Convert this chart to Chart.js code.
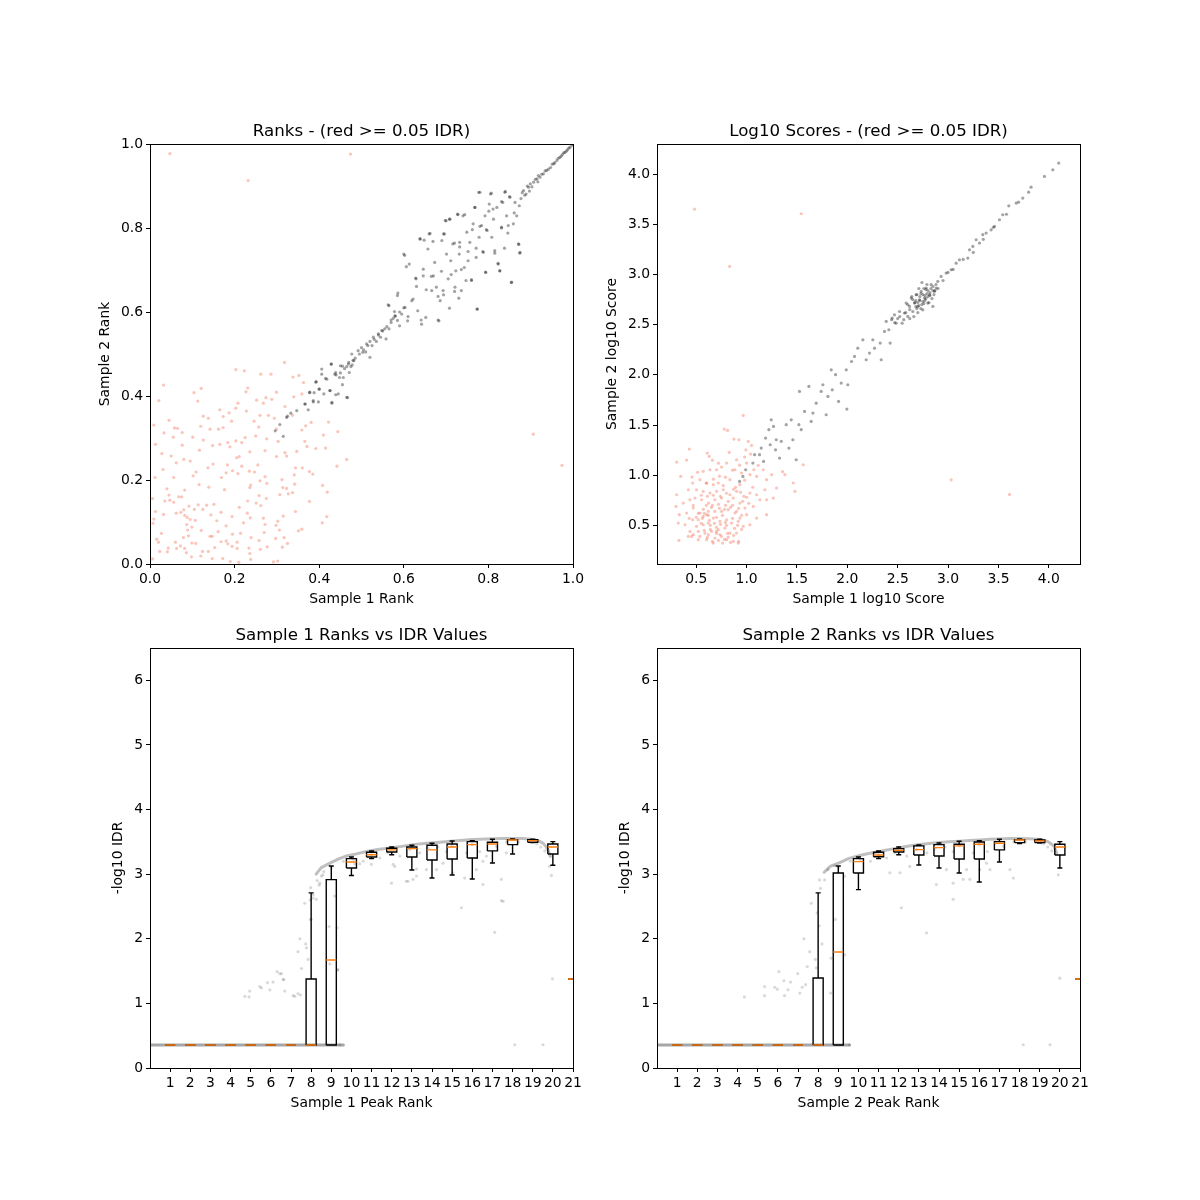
<!DOCTYPE html>
<html><head><meta charset="utf-8">
<script src="https://cdn.jsdelivr.net/npm/chart.js@4.4.1/dist/chart.umd.min.js"></script>
<style>
html,body{margin:0;padding:0;background:#fff;}
body{width:1200px;height:1200px;position:relative;overflow:hidden;}
canvas{position:absolute;}
</style></head><body>
<canvas id="c1" width="523" height="530" style="left:70px;top:94px;width:523px;height:530px"></canvas>
<canvas id="c2" width="523" height="530" style="left:577px;top:94px;width:523px;height:530px"></canvas>
<canvas id="c3" width="523" height="530" style="left:70px;top:598px;width:523px;height:530px"></canvas>
<canvas id="c4" width="523" height="530" style="left:577px;top:598px;width:523px;height:530px"></canvas>
<script>
// ---------- DATA ----------
const rankTicks = [0, 0.2, 0.4, 0.6, 0.8, 1.0];
const scoreTicks = [0.5, 1.0, 1.5, 2.0, 2.5, 3.0, 3.5, 4.0];
const idrYTicks = [0, 1, 2, 3, 4, 5, 6];
const peakRankTicks = [1,2,3,4,5,6,7,8,9,10,11,12,13,14,15,16,17,18,19,20,21];

const rankRed = [
[.047,.977],[.474,.976],[.232,.913],[.906,.309],[.974,.235],
[.318,.480],[.203,.463],[.223,.460],[.262,.452],[.286,.452],[.352,.449],[.338,.445],[.032,.426],[.363,.432],[.231,.419],
[.104,.408],[.121,.418],[.227,.410],[.299,.409],[.252,.390],[.274,.396],[.288,.392],[.340,.398],[.359,.405],[.021,.389],
[.113,.388],[.208,.383],[.268,.383],[.319,.375],[.203,.371],[.165,.367],[.228,.364],[.187,.360],[.126,.352],[.138,.347],
[.173,.351],[.260,.354],[.280,.354],[.294,.347],[.337,.354],[.045,.342],[.193,.340],[.246,.340],[.381,.337],[.422,.338],
[.009,.331],[.058,.324],[.065,.323],[.120,.328],[.142,.321],[.162,.321],[.173,.325],[.257,.326],[.299,.321],[.359,.319],
[.368,.329],[.033,.312],[.076,.313],[.444,.315],[.410,.307],[.055,.302],[.101,.302],[.126,.295],[.184,.289],[.203,.293],
[.225,.301],[.250,.305],[.276,.298],[.366,.292],[.013,.285],[.076,.283],[.148,.282],[.165,.285],[.189,.279],[.217,.289],
[.303,.292],[.371,.280],[.392,.275],[.415,.276],[.117,.271],[.236,.267],[.272,.270],[.319,.265],[.347,.268],[.028,.263],
[.050,.257],[.080,.249],[.062,.241],[.095,.245],[.205,.253],[.211,.256],[.299,.256],[.323,.257],[.465,.249],[.149,.238],
[.183,.236],[.137,.229],[.195,.222],[.235,.221],[.255,.236],[.217,.233],[.031,.225],[.344,.229],[.360,.229],[.442,.233],
[.109,.219],[.180,.217],[.247,.219],[.377,.220],[.385,.214],[.012,.206],[.056,.206],[.102,.210],[.169,.206],[.208,.215],
[.272,.208],[.341,.212],[.312,.201],[.116,.189],[.139,.183],[.238,.188],[.260,.198],[.276,.192],[.342,.190],[.408,.187],
[.040,.179],[.082,.176],[.176,.177],[.236,.182],[.314,.182],[.323,.180],[.337,.170],[.419,.171],[.045,.164],[.068,.160],
[.075,.160],[.258,.163],[.307,.165],[.327,.167],[.035,.150],[.047,.152],[.056,.147],[.006,.156],[.231,.150],[.275,.156],
[.377,.149],[.092,.138],[.114,.141],[.134,.140],[.151,.142],[.125,.130],[.211,.135],[.251,.145],[.262,.139],[.013,.125],
[.032,.118],[.062,.121],[.073,.123],[.080,.129],[.082,.116],[.105,.130],[.144,.117],[.168,.123],[.230,.121],[.344,.125],
[.088,.111],[.095,.106],[.107,.104],[.158,.103],[.194,.113],[.221,.098],[.237,.110],[.268,.109],[.272,.094],[.302,.102],
[.315,.114],[.418,.113],[.007,.097],[.009,.107],[.087,.094],[.099,.088],[.180,.091],[.298,.092],[.407,.098],[.027,.073],
[.089,.081],[.121,.080],[.161,.077],[.195,.071],[.214,.073],[.270,.075],[.306,.081],[.351,.079],[.359,.083],[.060,.052],
[.079,.063],[.091,.067],[.099,.050],[.142,.066],[.147,.066],[.168,.053],[.180,.055],[.206,.052],[.239,.063],[.258,.056],
[.297,.061],[.317,.063],[.016,.059],[.020,.052],[.043,.038],[.063,.037],[.072,.043],[.082,.037],[.108,.049],[.124,.030],
[.138,.030],[.153,.039],[.184,.048],[.194,.042],[.206,.037],[.234,.038],[.236,.025],[.261,.035],[.277,.041],[.313,.040],
[.325,.049],[.023,.030],[.041,.029],[.086,.027],[.098,.017],[.120,.019],[.147,.013],[.172,.013],[.190,.006],[.210,.004],
[.238,.011],[.292,.005],[.302,.007],[.006,.012]
];

const rankGray = [
[.296,.317],[.307,.332],[.315,.304],[.325,.352],[.333,.359],[.367,.381],[.374,.367],[.377,.408],[.388,.408],[.386,.386],
[.398,.386],[.400,.416],[.393,.434],[.406,.464],[.415,.442],[.430,.383],[.426,.413],[.429,.476],[.439,.403],[.467,.396],
[.439,.456],[.448,.444],[.455,.427],[.455,.471],[.471,.456],[.478,.474],
[.323,.349],[.347,.365],[.366,.381],[.378,.409],[.386,.389],[.392,.433],[.400,.417],[.406,.452],[.411,.405],[.418,.440],
[.425,.413],[.428,.476],[.430,.385],[.437,.452],[.445,.405],[.450,.472],[.457,.444],[.465,.397],[.469,.476],[.477,.500],
[.482,.484],[.492,.508],[.503,.504],[.512,.524],[.520,.492],[.528,.540],[.540,.548],[.548,.556],[.558,.536],[.565,.615],
[.570,.581],[.579,.591],[.585,.639],[.590,.567],[.600,.738],[.603,.611],[.609,.579],[.613,.714],[.619,.627],[.622,.631],
[.629,.679],[.633,.603],[.639,.774],[.642,.571],[.646,.686],[.648,.771],[.652,.587],[.657,.750],[.662,.787],[.666,.651],
[.670,.686],[.673,.718],[.677,.659],[.683,.579],[.686,.627],[.690,.770],[.693,.651],[.696,.786],[.700,.817],[.701,.738],
[.705,.679],[.709,.821],[.711,.722],[.716,.762],[.721,.659],[.723,.698],[.727,.833],[.731,.738],[.732,.766],[.736,.651],
[.740,.829],[.743,.706],[.747,.675],[.749,.790],[.752,.722],[.756,.766],[.760,.675],[.764,.810],[.768,.849],[.771,.730],
[.774,.607],[.778,.778],[.780,.885],[.784,.806],[.788,.742],[.792,.829],[.794,.694],[.797,.794],[.802,.857],[.805,.881],
[.808,.778],[.812,.821],[.815,.746],[.820,.849],[.823,.714],[.827,.698],[.831,.802],[.834,.861],[.839,.885],[.843,.829],
[.847,.806],[.851,.873],[.855,.671],[.859,.810],[.863,.861],[.867,.829],[.871,.762],[.873,.853],[.875,.742],[.854,.670],
[.874,.740],[.872,.761],[.823,.716],[.793,.695],[.773,.607],
[.777,.885],[.807,.883],[.840,.887],[.768,.849],[.801,.840],[.811,.845],[.831,.863],[.850,.875],[.861,.836],[.698,.818],
[.708,.821],[.728,.832],[.744,.832],[.762,.796],[.780,.804],[.795,.796],[.831,.800],[.846,.788],[.638,.774],[.660,.786],
[.669,.768],[.694,.786],[.720,.764],[.732,.755],[.752,.744],[.771,.752],[.787,.744],[.815,.740],[.838,.752],[.602,.735],
[.606,.708],[.628,.681],[.646,.702],[.665,.685],[.689,.697],[.712,.689],[.736,.701],[.760,.677],[.630,.661],[.653,.653],
[.681,.637],[.694,.641],[.720,.649],[.586,.645],[.563,.617],[.578,.601],[.610,.589],[.641,.581],[.681,.581],[.708,.609],
[.730,.633],[.827,.698],
[.877,.870],[.880,.884],[.883,.889],[.886,.878],[.889,.881],[.892,.900],[.895,.897],[.897,.888],[.899,.905],[.903,.898],
[.907,.909],[.911,.916],[.915,.917],[.917,.910],[.918,.925],[.922,.921],[.926,.928],[.930,.929],[.934,.936],[.938,.937],
[.942,.940],[.947,.944],[.951,.952],[.957,.956],[.962,.961],[.969,.968],[.975,.975],[.981,.980],[.987,.986],[.993,.992],
[.997,.997],[1.0,1.0],[.955,.953],[.965,.966],[.972,.971],[.978,.979],[.984,.983],[.990,.990],
[.485,.490],[.495,.500],[.500,.515],[.505,.510],[.510,.505],[.515,.520],[.520,.530],[.525,.520],[.530,.535],[.535,.530],
[.540,.545],[.545,.540],[.550,.555],[.555,.560],[.560,.565],[.565,.560],[.570,.575],[.575,.585],[.580,.590],[.585,.580],
[.590,.600],[.595,.595],[.600,.610],[.460,.465],[.465,.470],[.470,.480],[.475,.470],[.480,.485],[.450,.455],[.440,.450]
];

const scoreRed = [
[.483,3.651],[1.542,3.605],[.831,3.080],[3.031,.954],[3.610,.808],
[.966,1.595],[.778,1.459],[.811,1.446],[.431,1.260],[.305,1.131],[.404,1.151],[.609,1.220],[.629,1.187],[.827,1.227],
[.874,1.360],[.923,1.353],[1.016,1.336],[1.049,1.297],[.993,1.253],[.900,1.154],[.801,1.121],[.751,1.081],[.702,1.054],
[.636,1.054],[.569,1.038],[.513,1.028],[.457,.981],[.345,.988],[.464,.922],[.536,.955],[.603,.922],[.669,.905],[.718,.922],
[.768,.895],[.834,.955],[.884,1.054],[.950,1.021],[1.033,1.005],[1.099,.988],[1.072,1.054],[1.115,1.098],[1.000,1.121],
[1.165,1.054],[1.198,.955],[1.248,1.005],[1.357,1.035],[1.463,.922],[1.562,1.104],[1.479,.839],[1.380,1.005],[1.297,.872],
[1.181,.855],[1.099,.805],[1.033,.822],[.973,.789],[.900,.839],[.834,.805],[.768,.855],[.702,.839],[.636,.822],[.569,.839],
[.503,.855],[.421,.855],[.305,.805],[.298,.689],[.371,.722],[.437,.755],[.487,.772],[.553,.755],[.622,.722],[.685,.755],
[.751,.772],[.817,.739],[.867,.772],[.933,.722],[.983,.672],[1.066,.689],[1.132,.755],[1.198,.606],[1.099,.573],[1.000,.606],
[.933,.573],[.884,.623],[.817,.656],[.751,.639],[.685,.639],[.603,.606],[.536,.623],[.470,.672],[.404,.623],[.331,.606],
[.321,.523],[.388,.506],[.464,.556],[.520,.556],[.569,.589],[.619,.523],[.669,.573],[.735,.540],[.801,.556],[.851,.523],
[.917,.540],[.966,.490],[1.033,.506],[.503,.490],[.569,.506],[.437,.440],[.520,.440],[.586,.423],[.652,.440],[.718,.457],
[.784,.473],[.834,.423],[.900,.423],[.421,.390],[.470,.407],[.536,.390],[.619,.407],[.685,.374],[.735,.407],[.801,.357],
[.867,.340],[.917,.324],[.669,.324],[.603,.357],[.520,.357],[.454,.390],[.328,.350],[.761,.324],[.817,.383],[.702,.440],
[1.198,.755],[1.264,.772],[.933,.905],[.890,.879],[.60,.70],[.65,.68],[.72,.71],[.78,.66],[.58,.62],[.62,.60],[.70,.58],
[.76,.60],[.84,.68],[.90,.64],[.55,.52],[.64,.50],[.70,.48],[.80,.50],[.88,.47],[.95,.60],[1.02,.72],[1.06,.88],[.98,.95],
[.52,.62],[.57,.66],[.62,.64],[.66,.70],[.73,.67],[.79,.70],[.86,.70],[.92,.67],[.96,.74],[.47,.70],[.43,.57],[.50,.58],
[.56,.57],[.63,.55],[.68,.52],[.74,.51],[.79,.53],[.86,.57],[.91,.50],[.95,.46],[.58,.45],[.64,.46],[.70,.42],[.75,.39],
[.81,.42],[.87,.40],[.61,.38],[.66,.34],[.72,.35],[.78,.36],[.84,.33],[.92,.34],[.55,.80],[.61,.79],[.67,.80],[.74,.79],
[.80,.82],[.87,.86],[.94,.83],[1.00,.78],[.60,.92],[.67,.96],[.73,.99],[.79,.98],[.86,1.05],[.93,1.10],[.98,1.18],[1.04,1.21],
[.72,1.12],[.66,1.15]
];

const scoreGray = [
[.930,.938],[.963,.988],[.990,1.054],[1.062,1.121],[1.079,1.204],[1.128,1.204],[1.145,1.270],[1.168,1.137],[1.188,1.370],
[1.221,1.453],[1.234,1.303],[1.244,1.552],[1.267,1.486],[1.287,1.253],[1.294,1.353],[1.327,1.170],[1.344,1.337],[1.393,1.503],
[1.420,1.270],[1.443,1.552],[1.459,1.353],[1.492,1.154],[1.519,1.503],[1.542,1.453],[1.525,1.835],[1.575,1.635],[1.618,1.884],
[1.641,1.536],[1.658,1.619],[1.691,1.718],[1.740,1.835],[1.757,1.901],[1.790,1.602],[1.807,1.785],[1.840,2.050],[1.850,1.851],
[1.883,2.001],[1.913,1.735],[1.939,1.918],[1.989,2.050],[1.995,1.659],[2.005,1.901],[2.042,2.133],[2.071,2.183],[2.104,2.266],
[2.154,2.349],[2.187,2.150],[2.220,2.217],[2.253,2.349],[2.270,2.266],[2.326,2.316],[2.336,2.150],[2.369,2.432],[2.386,2.532],
[2.412,2.449],[2.425,2.316],[2.445,2.565],[2.468,2.598],[2.485,2.515],[2.518,2.631],[2.544,2.515],[2.567,2.615],[2.584,2.715],
[2.600,2.582],[2.617,2.682],[2.634,2.765],[2.650,2.631],[2.667,2.715],[2.683,2.798],[2.700,2.682],[2.716,2.748],[2.733,2.831],
[2.749,2.648],[2.766,2.765],[2.783,2.865],[2.799,2.715],[2.816,2.798],[2.832,2.898],[2.849,2.682],[2.865,2.831],[2.882,2.865],
[2.898,2.931],[2.931,2.980],[2.981,3.014],[3.031,3.047],[3.080,3.113],[3.113,3.146],[3.196,3.163],[3.213,3.246],[3.246,3.279],
[3.279,3.346],[3.312,3.313],[3.345,3.396],[3.378,3.412],[3.428,3.445],[3.461,3.479],[3.510,3.545],[3.543,3.595],[3.603,3.684],
[3.676,3.711],[3.742,3.761],[3.824,3.870],[3.957,3.977],[4.040,4.043],[4.099,4.110],
[2.60,2.70],[2.62,2.65],[2.65,2.75],[2.68,2.68],[2.70,2.72],[2.72,2.78],[2.74,2.70],[2.75,2.80],[2.77,2.74],[2.78,2.85],
[2.80,2.78],[2.82,2.82],[2.84,2.76],[2.85,2.88],[2.87,2.84],[2.70,2.62],[2.73,2.66],[2.76,2.86],[2.79,2.90],[2.81,2.72],
[2.66,2.58],[2.64,2.78],[2.69,2.80],[2.71,2.86],[2.74,2.92],[2.83,2.86],[2.86,2.80],[2.88,2.90],[2.90,2.86],[2.58,2.62],
[2.62,2.56],[2.56,2.55],[2.52,2.58],[2.50,2.56],[2.47,2.52],[2.44,2.55],[2.67,2.72],[2.72,2.74],[2.77,2.79],[2.80,2.84],
[2.78,2.76],[2.75,2.73],[2.71,2.69],[2.68,2.74],[2.73,2.81],[2.76,2.71],[2.79,2.81],[2.82,2.79],[2.85,2.84],[2.69,2.66],
[2.95,2.94],[3.00,3.02],[3.05,3.05],[3.15,3.15],[3.25,3.22],[3.35,3.35],[3.45,3.47],[3.58,3.60],[3.70,3.72],[3.80,3.82]
];

// Sample 1 boxplot stats (positions 1..21)
const s1WhisLo = [.356,.356,.356,.356,.356,.356,.356,.356,.356,2.98,3.24,3.30,3.065,2.94,2.988,2.926,3.173,3.313,3.488,3.137,1.378];
const s1Q1     = [.356,.356,.356,.356,.356,.356,.356,.356,.356,3.096,3.266,3.344,3.266,3.22,3.235,3.25,3.36,3.457,3.493,3.313,1.378];
const s1Med    = [.356,.356,.356,.356,.356,.356,.356,.356,1.672,3.189,3.30,3.375,3.395,3.375,3.42,3.457,3.467,3.529,3.519,3.42,1.378];
const s1Q3     = [.356,.356,.356,.356,.356,.356,.356,1.378,2.915,3.24,3.338,3.40,3.42,3.447,3.467,3.504,3.493,3.535,3.535,3.467,1.378];
const s1WhisHi = [.356,.356,.356,.356,.356,.356,.356,2.71,3.127,3.266,3.36,3.42,3.447,3.478,3.514,3.519,3.54,3.545,3.54,3.504,1.378];
// Sample 2 boxplot stats
const s2WhisLo = [.356,.356,.356,.356,.356,.356,.356,.356,.356,2.76,3.24,3.30,3.142,3.096,3.018,2.879,3.189,3.473,3.483,3.096,1.378];
const s2Q1     = [.356,.356,.356,.356,.356,.356,.356,.356,.356,3.018,3.27,3.344,3.297,3.282,3.235,3.235,3.375,3.488,3.488,3.297,1.378];
const s2Med    = [.356,.356,.356,.356,.356,.356,.356,.356,1.796,3.194,3.297,3.37,3.38,3.41,3.437,3.462,3.478,3.529,3.514,3.42,1.378];
const s2Q3     = [.356,.356,.356,.356,.356,.356,.356,1.393,3.018,3.24,3.338,3.395,3.437,3.457,3.462,3.498,3.504,3.535,3.529,3.462,1.378];
const s2WhisHi = [.356,.356,.356,.356,.356,.356,.356,2.71,3.127,3.266,3.36,3.42,3.452,3.483,3.509,3.519,3.54,3.545,3.54,3.504,1.378];

// dense bands of IDR points
const s1Flat = [[0,.356],[9.6,.356]];
const s1Band = [[8.25,3.0],[8.5,3.1],[8.93,3.17],[9.4,3.24],[9.75,3.28],[10.2,3.31],[10.74,3.35],[11.3,3.38],[11.9,3.405],
 [12.5,3.43],[13.06,3.457],[13.6,3.475],[14.22,3.49],[14.8,3.505],[15.38,3.52],[16.0,3.535],[16.7,3.545],[17.4,3.55],
 [18.02,3.552],[18.5,3.55],[19.02,3.535],[19.3,3.515],[19.51,3.48],[19.65,3.43],[19.76,3.38],[19.88,3.275]];
const s2Flat = [[0,.356],[9.55,.356]];
const s2Band = [[8.3,3.03],[8.6,3.12],[9.07,3.18],[9.5,3.24],[10.06,3.29],[10.5,3.32],[11.06,3.35],[11.5,3.38],[12.05,3.41],
 [12.5,3.435],[13.04,3.46],[13.5,3.475],[14.04,3.49],[14.5,3.50],[15.03,3.51],[15.5,3.52],[16.03,3.53],[16.5,3.54],[17.03,3.545],
 [17.5,3.55],[18.02,3.552],[18.5,3.548],[19.01,3.535],[19.25,3.52],[19.43,3.50],[19.6,3.46],[19.71,3.43],[19.84,3.33]];

const s1Dots = [
[4.71,1.11],[4.92,1.10],[4.95,1.19],[5.45,1.26],[5.53,1.24],[5.83,1.32],[5.95,1.21],[6.11,1.33],[6.31,1.49],[6.53,1.46],
[6.61,1.37],[6.69,1.19],[7.11,1.12],[7.19,1.11],[7.35,1.15],[7.47,1.13],[7.52,1.54],[7.35,1.80],[7.44,2.00],[7.73,1.92],
[7.85,1.68],[7.77,1.86],[7.68,2.55],[7.98,2.79],[8.10,2.63],[8.30,2.90],[8.40,2.83],[8.51,2.97],[8.63,3.04],[8.59,2.99],
[8.93,1.61],[9.34,1.52],[9.29,2.17],[9.17,2.66],[10.17,3.16],[10.41,3.16],[11.99,2.86],[12.15,3.12],[12.07,3.15],[12.73,2.89],
[6.44,1.46],[6.64,1.37],[7.97,2.30],[8.10,2.68],[8.43,2.86],[8.26,2.61],[9.31,1.52],[9.42,.36],[10.99,3.15],[12.81,2.89],
[13.23,2.97],[13.72,3.07],[14.22,3.07],[14.55,3.17],[15.04,3.02],[15.46,2.48],[15.62,2.94],[16.20,3.07],[16.53,3.20],[16.70,3.28],
[17.11,2.10],[17.45,2.59],[17.69,3.33],[18.11,.36],[19.51,.36],[19.93,2.98],[19.98,1.38],[19.84,3.12],[13.06,2.92],[13.23,3.08],
[16.53,2.84],[17.44,2.92],[17.53,2.58],[8.89,2.19],[8.0,2.30],[7.95,2.60],
[10.58,3.20],[11.41,3.25],[12.40,3.28],[13.39,3.33],[14.72,3.35],[15.71,3.33],[16.37,3.35],[17.20,3.43],[18.3,3.50],[19.2,3.47],
[9.0,3.10],[9.6,3.20],[10.1,3.23],[11.0,3.30],[11.8,3.33],[12.9,3.38],[13.8,3.40],[14.3,3.42],[15.0,3.44],[16.0,3.46],
[16.8,3.48],[17.7,3.50],[18.8,3.52],[19.4,3.42],[19.6,3.36]
];
const s2Dots = [
[4.34,1.10],[5.34,1.26],[5.34,1.12],[5.84,1.25],[5.97,1.22],[6.05,1.49],[6.30,1.35],[6.33,1.12],[6.50,1.21],[6.63,1.33],
[6.99,1.46],[7.09,1.16],[7.21,1.25],[7.38,1.29],[7.46,1.57],[7.29,2.00],[7.58,1.80],[7.66,2.55],[7.86,1.68],[7.91,1.55],
[8.12,2.78],[8.19,1.92],[8.32,2.91],[8.07,2.91],[8.65,1.70],[8.62,1.16],[9.32,2.97],[9.32,1.75],[9.56,.36],[8.49,3.07],
[8.82,3.13],[12.13,2.48],[11.56,3.02],[12.06,3.02],[12.55,3.12],[13.38,2.09],[13.87,2.84],[14.37,3.07],[14.70,2.61],[14.70,2.86],
[15.20,2.92],[15.37,3.07],[15.53,2.92],[16.03,3.07],[16.36,3.17],[16.53,3.07],[17.52,3.07],[17.69,2.94],[18.18,.36],[19.51,.36],
[19.92,2.99],[20.00,1.39],[7.95,2.40],[8.05,2.20],[8.85,2.30],
[10.6,3.20],[11.4,3.25],[12.4,3.28],[13.4,3.33],[14.7,3.35],[15.7,3.33],[16.4,3.35],[17.2,3.43],[18.3,3.50],[19.2,3.47],
[9.0,3.10],[9.6,3.20],[10.1,3.23],[11.0,3.30],[11.8,3.33],[12.9,3.38],[13.8,3.40],[14.3,3.42],[15.0,3.44],[16.0,3.46],
[16.8,3.48],[17.7,3.50],[18.8,3.52],[19.4,3.42],[19.6,3.36]
];

// ---------- RENDERING ----------
Chart.defaults.font.family = '"DejaVu Sans", sans-serif';
Chart.defaults.font.size = 13.9;
Chart.defaults.color = '#000';

const FONT = 13.9;
const toXY = a => a.map(p => ({x: p[0], y: p[1]}));
const GAP = {x: 0, y: null};

function boxSegments(pos, lo, q1, q3, hi) {
  const pts = [];
  pos.forEach((p, i) => {
    pts.push({x:p-0.25,y:q1[i]},{x:p+0.25,y:q1[i]},{x:p+0.25,y:q3[i]},{x:p-0.25,y:q3[i]},{x:p-0.25,y:q1[i]},GAP);
    pts.push({x:p,y:q1[i]},{x:p,y:lo[i]},GAP,{x:p,y:q3[i]},{x:p,y:hi[i]},GAP);
    pts.push({x:p-0.125,y:lo[i]},{x:p+0.125,y:lo[i]},GAP,{x:p-0.125,y:hi[i]},{x:p+0.125,y:hi[i]},GAP);
  });
  return pts;
}
function medSegments(pos, med) {
  const pts = [];
  pos.forEach((p, i) => { pts.push({x:p-0.25,y:med[i]},{x:p+0.25,y:med[i]},GAP); });
  return pts;
}

const titlePlugin = {
  id: 'axTitle',
  afterDraw(chart, args, opts) {
    const {ctx, chartArea: a} = chart;
    ctx.save();
    ctx.font = '16.67px "DejaVu Sans"';
    ctx.fillStyle = '#000';
    ctx.textAlign = 'center';
    ctx.textBaseline = 'alphabetic';
    ctx.fillText(opts.text, (a.left + a.right) / 2, a.top - 8.3);
    ctx.restore();
  }
};
const framePlugin = {
  id: 'frame',
  afterDatasetsDraw(chart) {
    const {ctx, chartArea: a} = chart;
    ctx.save();
    ctx.strokeStyle = '#000';
    ctx.lineWidth = 1;
    ctx.strokeRect(a.left + 0.5, a.top + 0.5, a.right - a.left, a.bottom - a.top);
    ctx.restore();
  }
};

function xAxis(min, max, ticks, fmt, title) {
  return {
    type: 'linear', position: 'bottom', min, max,
    afterBuildTicks: s => { s.ticks = ticks.map(v => ({value: v})); },
    afterFit: s => { s.height = 60; },
    ticks: {autoSkip: false, maxRotation: 0, minRotation: 0, padding: 3, color: '#000',
            font: {size: FONT}, callback: v => fmt(v)},
    grid: {drawOnChartArea: false, drawTicks: true, tickLength: 4, tickColor: '#000', tickWidth: 1, color: '#000'},
    border: {display: false},
    title: {display: true, text: title, color: '#000', font: {size: FONT, lineHeight: 1}, padding: {top: 0, bottom: 18}}
  };
}
function yAxis(min, max, ticks, fmt, title, pad) {
  return {
    type: 'linear', position: 'left', min, max,
    afterBuildTicks: s => { s.ticks = ticks.map(v => ({value: v})); },
    afterFit: s => { s.width = 80; },
    ticks: {autoSkip: false, padding: 3, color: '#000', font: {size: FONT}, callback: v => fmt(v)},
    grid: {drawOnChartArea: false, drawTicks: true, tickLength: 4, tickColor: '#000', tickWidth: 1, color: '#000'},
    border: {display: false},
    title: {display: true, text: title, color: '#000', font: {size: FONT, lineHeight: 1}, padding: {top: pad, bottom: 0}}
  };
}
const f1 = v => Number(v).toFixed(1);
const f0 = v => String(v);

function makeChart(id, title, datasets, xs, ys) {
  new Chart(document.getElementById(id), {
    type: 'scatter',
    data: {datasets},
    options: {
      responsive: false, animation: false, devicePixelRatio: 1,
      layout: {padding: {top: 50, right: 20, left: 0, bottom: 0}},
      plugins: {legend: {display: false}, tooltip: {enabled: false}, axTitle: {text: title}},
      scales: {x: xs, y: ys}
    },
    plugins: [titlePlugin, framePlugin]
  });
}

const grayPt = 'rgba(0,0,0,0.36)';
const redPt = 'rgba(240,95,65,0.36)';
function dots(arr, color, order) {
  return {data: toXY(arr), pointRadius: 1.6, pointBorderWidth: 0, pointBackgroundColor: color,
          pointBorderColor: color, backgroundColor: color, borderColor: color, order};
}
function band(arr, color, width, order) {
  return {data: toXY(arr), showLine: true, pointRadius: 0, borderColor: color, borderWidth: width,
          tension: 0, order, borderCapStyle: 'round'};
}

makeChart('c1', 'Ranks - (red >= 0.05 IDR)',
  [dots(rankGray, grayPt, 0), dots(rankRed, redPt, 1)],
  xAxis(0, 1, rankTicks, f1, 'Sample 1 Rank'),
  yAxis(0, 1, rankTicks, f1, 'Sample 2 Rank', 28));

makeChart('c2', 'Log10 Scores - (red >= 0.05 IDR)',
  [dots(scoreGray, grayPt, 0), dots(scoreRed, redPt, 1)],
  xAxis(0.11, 4.31, scoreTicks, f1, 'Sample 1 log10 Score'),
  yAxis(0.115, 4.30, scoreTicks, f1, 'Sample 2 log10 Score', 28));

function idrDatasets(flat, bandPts, dotPts, lo, q1, med, q3, hi) {
  const pos = peakRankTicks;
  return [
    {data: medSegments(pos, med), showLine: true, pointRadius: 0, borderColor: '#ff7f0e', borderWidth: 1.4, tension: 0, order: 0, spanGaps: false},
    {data: boxSegments(pos, lo, q1, q3, hi), showLine: true, pointRadius: 0, borderColor: '#000', borderWidth: 1.4, tension: 0, order: 1, spanGaps: false},
    dots(dotPts, 'rgba(0,0,0,0.15)', 2),
    band(bandPts, 'rgba(0,0,0,0.25)', 3, 3),
    band(flat, 'rgba(0,0,0,0.35)', 3, 4)
  ];
}

makeChart('c3', 'Sample 1 Ranks vs IDR Values',
  idrDatasets(s1Flat, s1Band, s1Dots, s1WhisLo, s1Q1, s1Med, s1Q3, s1WhisHi),
  xAxis(0, 21, peakRankTicks, f0, 'Sample 1 Peak Rank'),
  yAxis(0, 6.5, idrYTicks, f0, '-log10 IDR', 41));

makeChart('c4', 'Sample 2 Ranks vs IDR Values',
  idrDatasets(s2Flat, s2Band, s2Dots, s2WhisLo, s2Q1, s2Med, s2Q3, s2WhisHi),
  xAxis(0, 21, peakRankTicks, f0, 'Sample 2 Peak Rank'),
  yAxis(0, 6.5, idrYTicks, f0, '-log10 IDR', 41));
</script>
</body></html>
